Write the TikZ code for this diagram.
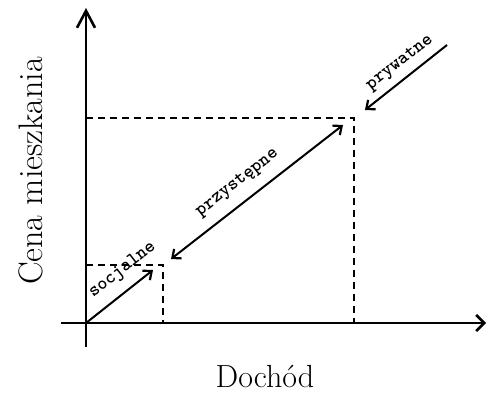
\documentclass[tikz,border=0pt]{standalone}
\usetikzlibrary{arrows.meta}
\begin{document}
\begin{tikzpicture}[x=1pt,y=-1pt,
  axis/.style={line width=2.8pt},
  yhead/.style={-{Straight Barb[length=17pt,width=18pt,line width=2.6pt]}},
  xhead/.style={-{Straight Barb[length=8pt,width=16pt,line width=2.6pt]}},
  arr/.style={line width=2pt,-{Straight Barb[length=7pt,width=12pt,line width=2.2pt]}},
  darr/.style={line width=2pt,{Straight Barb[length=7pt,width=12pt,line width=2.2pt]}-{Straight Barb[length=7pt,width=12pt,line width=2.2pt]}},
  guide/.style={line width=1.4pt,dash pattern=on 7pt off 5pt},
  lbl/.style={font=\fontsize{19}{21}\selectfont\ttfamily\bfseries,rotate=38,inner sep=0pt},
  xlbl/.style={font=\fontsize{32}{35}\selectfont,inner sep=0pt},
  ylbl/.style={font=\fontsize{34}{38}\selectfont,inner sep=0pt}]
\useasboundingbox (0,0) rectangle (487,394);
% coordinates
\coordinate (O) at (86,323);
\coordinate (ybot) at (86,347);
\coordinate (ytop) at (86,8);
\coordinate (xleft) at (61,323);
\coordinate (xright) at (486,323);
\coordinate (la) at (86,265);
\coordinate (lc) at (163,265);
\coordinate (lb) at (163,323);
\coordinate (ua) at (86,118);
\coordinate (uc) at (354,118);
\coordinate (ub) at (354,323);
\coordinate (s1) at (153,270);
\coordinate (p0) at (171,259);
\coordinate (p1) at (343,125);
\coordinate (w0) at (447,45);
\coordinate (w1) at (365,110);
% guides
\draw[guide] (la) -- (lc) -- (lb);
\draw[guide] (ua) -- (uc) -- (ub);
% axes
\draw[axis,yhead] (ybot) -- (ytop);
\draw[axis,xhead] (xleft) -- (xright);
% arrows
\draw[arr] (O) -- (s1);
\draw[darr] (p0) -- (p1);
\draw[arr] (w0) -- (w1);
% labels
\node[lbl] (tsoc) at (122.5,270) {socjalne};
\node[lbl] (tprz) at (237.5,183) {przystępne};
\node[lbl] (tpry) at (400,63) {prywatne};
\node[xlbl,anchor=base] (tx) at (265,387) {Dochód};
\node[ylbl,rotate=90] (ty) at (31,171) {Cena mieszkania};
\end{tikzpicture}
\end{document}
